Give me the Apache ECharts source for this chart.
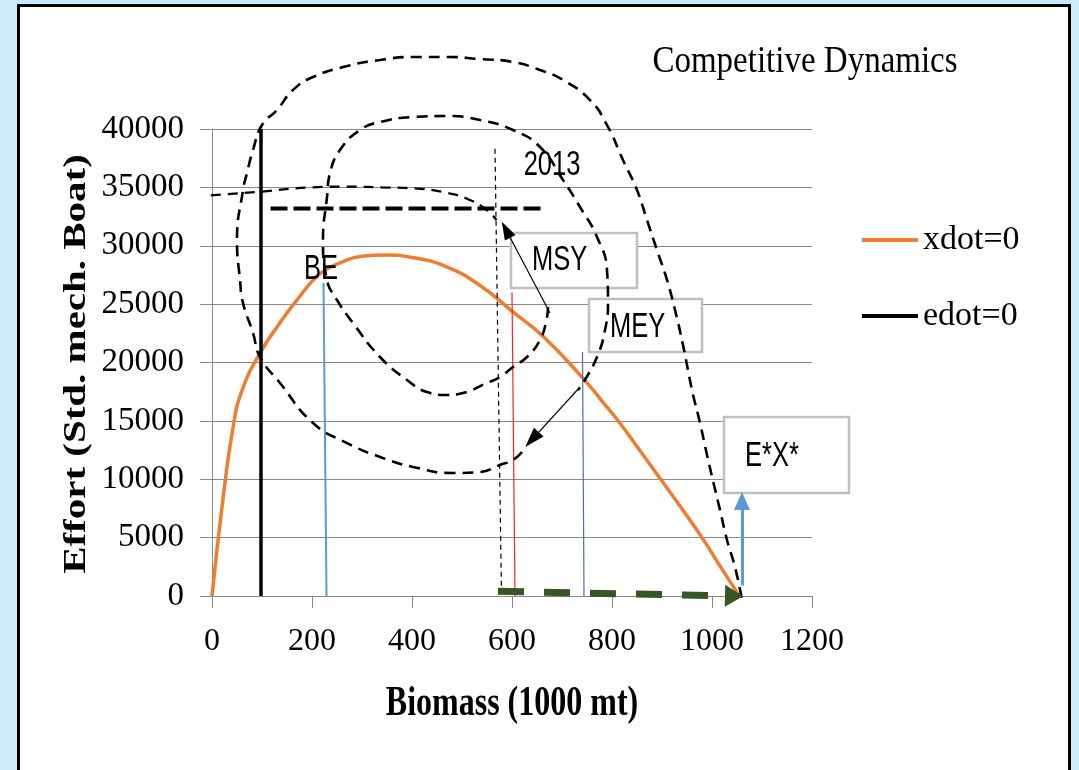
<!DOCTYPE html>
<html><head><meta charset="utf-8">
<script src="https://cdn.jsdelivr.net/npm/echarts@6/dist/echarts.min.js"></script>
<style>
html,body{margin:0;padding:0;background:#cde9fc;width:1079px;height:770px;overflow:hidden;}
#frame{position:absolute;left:17px;top:4px;width:1048px;height:800px;border:3px solid #000;background:#fff;}
#chart{position:absolute;left:0;top:0;width:1079px;height:770px;}
</style></head><body>
<div id="frame"></div><div id="chart"></div>
<script>
// ---- data (Biomass in 1000 mt, Effort in std. mech. boats) ----
const xdotCurve = [[0,0],[20,7600],[42,14400],[60,17600],[96,20800],[136,23400],[169,25300],[216,27600],[260,28600],[300,29100],[349,29200],[400,29000],[469,28200],[536,26600],[600,24400],[663,22200],[743,18600],[780,16700],[816,14800],[850,12800],[889,10500],[936,7700],[980,5000],[1020,2300],[1055,0]];
const edotLine = [[98,0],[98,40000]];
const beLine = [[223,26800],[229,0]];
const msyLine = [[600,26000],[606,0]];
const meyLine = [[741,20900],[744,0]];
const line2013 = [[566,38300],[579,0]];
const thickDash = [[117,33200],[663,33200]];
const historyCurve = [[-36,34200],[96,34630],[200,35000],[269,35060],[340,35000],[403,34920],[469,34540],[516,33920],[549,33070],[569,32210]];
const spiralInner = [[672,24750],[669,23640],[656,21930],[630,20470],[602,19610],[576,18760],[550,18250],[502,17390],[470,17220],[430,17470],[390,18500],[336,20470],[282,23380],[250,25350],[230,27070],[222,30490],[230,34170],[236,36230],[256,38200],[296,39910],[336,40600],[402,41030],[470,41110],[536,40770],[602,39910],[656,38460],[702,35630],[736,33320],[770,30750],[790,27920],[792,25100],[786,22780],[770,20470],[742,18240],[732,17640]];
const spiralOuter = [[620,12330],[602,11650],[576,11220],[536,10620],[482,10530],[402,11050],[336,11910],[270,13100],[202,14820],[136,18240],[96,20470],[82,22530],[62,25100],[56,27070],[50,30490],[62,34770],[70,36230],[82,38200],[100,40340],[130,41630],[162,43340],[202,44450],[270,45390],[336,45910],[402,46170],[470,46170],[536,45990],[602,45740],[656,45050],[702,44200],[756,42480],[790,40340],[822,37340],[850,34770],[870,32200],[890,29630],[910,27070],[926,24500],[942,21500],[960,17640],[976,14820],[990,12080],[1004,9510],[1016,7370],[1030,4800],[1046,2480],[1060,-340]];
const arrowMSY = [[676,24240],[588,31370]];
const arrowDown = [[736,17900],[640,13400]];
const arrowGreen = [[572,400],[1044,0]];
const arrowBlue = [[1060,900],[1060,8140]];
const pointLabels = [{text:'2013', x:680, y:36900}, {text:'BE', x:218, y:28000}];
const boxLabels = [
  {text:'MSY', x1:598, y1:31090, x2:850, y2:26380, tx:640, ty:28780},
  {text:'MEY', x1:754, y1:25440, x2:980, y2:20900, tx:796, ty:23000},
  {text:'E*X*', x1:1024, y1:15330, x2:1274, y2:8820, tx:1066, ty:11950}
];
const legendNames = ['xdot=0','edot=0'];

const chart = echarts.init(document.getElementById('chart'), null, {renderer:'canvas'});
const GRAY = '#898989';
function ls(name, data, color, width, type, smooth){
  return {name, type:'line', data, symbol:'none', showSymbol:false, silent:true, clip:false, smooth:smooth||false,
    color, itemStyle:{color}, lineStyle:{color, width, type:type||'solid'}, emphasis:{disabled:true}, z:3};
}
function arrow(name, pts, color, width, type, size){
  return {name, type:'line', data:pts, symbol:'none', showSymbol:false, silent:true, clip:false,
    lineStyle:{opacity:0}, emphasis:{disabled:true}, z:4,
    markLine:{silent:true, animation:false, symbol:['none','triangle'], symbolSize:size,
      label:{show:false}, itemStyle:{color}, lineStyle:{color, width, type, opacity:1},
      emphasis:{disabled:true},
      data:[[{coord:pts[0]},{coord:pts[1]}]]}};
}
const serif = "'Liberation Serif','Times New Roman',serif";
const plain = v => String(v);
const option = {
  animation:false,
  grid:{left:212, top:129, width:600, height:467},
  xAxis:{type:'value', min:0, max:1200, interval:200,
    axisLine:{show:true, onZero:false, lineStyle:{color:GRAY, width:1}},
    axisTick:{show:true, length:12, lineStyle:{color:GRAY}},
    splitLine:{show:false},
    axisLabel:{fontFamily:serif, fontSize:32, color:'#000', margin:30, formatter:plain}},
  yAxis:{type:'value', min:0, max:40000, interval:5000,
    axisLine:{show:true, lineStyle:{color:GRAY, width:1}},
    axisTick:{show:true, length:12, lineStyle:{color:GRAY}},
    splitLine:{show:true, lineStyle:{color:GRAY, width:1}},
    axisLabel:{fontFamily:serif, fontSize:33, color:'#000', margin:28, formatter:plain}},
  legend:{data:legendNames, orient:'vertical', left:862, top:223, padding:0, itemWidth:56, itemHeight:4, itemGap:42,
    icon:'rect', selectedMode:false, textStyle:{fontFamily:serif, fontSize:34, color:'#000'}},
  series:[
    ls('xdot=0', xdotCurve, '#ED7D31', 3.5, 'solid', 0.5),
    ls('edot=0', edotLine, '#000000', 3.5),
    ls('BE', beLine, '#5B9BD5', 2),
    ls('MSY', msyLine, '#FF2020', 1.2),
    ls('MEY', meyLine, '#4F6F9F', 1.2),
    ls('2013 line', line2013, '#000000', 1.2, [5,4]),
    ls('thick', thickDash, '#000000', 4, [17,6]),
    ls('history', historyCurve, '#000000', 2.3, [10,7], 0.5),
    ls('spiral inner', spiralInner, '#000000', 2.6, [11,7], 0.5),
    ls('spiral outer', spiralOuter, '#000000', 2.6, [11,7], 0.5),
    arrow('a1', arrowMSY, '#000000', 1.2, 'solid', [12,18]),
    arrow('a2', arrowDown, '#000000', 1.2, 'solid', [13,20]),
    arrow('a3', arrowGreen, '#375623', 7, [26,20], [22,18]),
    arrow('a4', arrowBlue, '#5B9BD5', 3, 'solid', [16,18])
  ]
};
chart.setOption(option);

function px(p){ return chart.convertToPixel({gridIndex:0}, p); }
const annFont = "25.5px 'Liberation Sans', Arial, sans-serif";
const g = [];
function txt(text, x, y, font, align, sx, sy, rot){
  return {type:'text', x, y, rotation:rot||0, scaleX:sx||1, scaleY:sy||1, z:10, silent:true,
    style:{text, x:0, y:0, font, fill:'#000', align, verticalAlign:'middle', textAlign:align, textVerticalAlign:'middle'}};
}
g.push(txt('Competitive Dynamics', 805, 62, "33px "+serif, 'center', 1, 1.15));
g.push(txt('Biomass (1000 mt)', 512, 704, "bold 32px "+serif, 'center', 1, 1.35));
g.push(txt('Effort (Std. mech. Boat)', 77, 364, "bold 31.5px "+serif, 'center', 1.3, 1, Math.PI/2));
boxLabels.forEach(b => {
  const p1 = px([b.x1, b.y1]), p2 = px([b.x2, b.y2]);
  g.push({type:'rect', z:1, silent:true, shape:{x:p1[0], y:p1[1], width:p2[0]-p1[0], height:p2[1]-p1[1]},
    style:{fill:'#fff', stroke:'#BFBFBF', lineWidth:2.5}});
  const t = px([b.tx, b.ty]);
  g.push(txt(b.text, t[0], t[1], annFont, 'left', 1, 1.4));
});
pointLabels.forEach(l => {
  const t = px([l.x, l.y]);
  g.push(txt(l.text, t[0], t[1], annFont, 'center', 1, 1.4));
});
chart.setOption({graphic:{elements:g}});
</script></body></html>
